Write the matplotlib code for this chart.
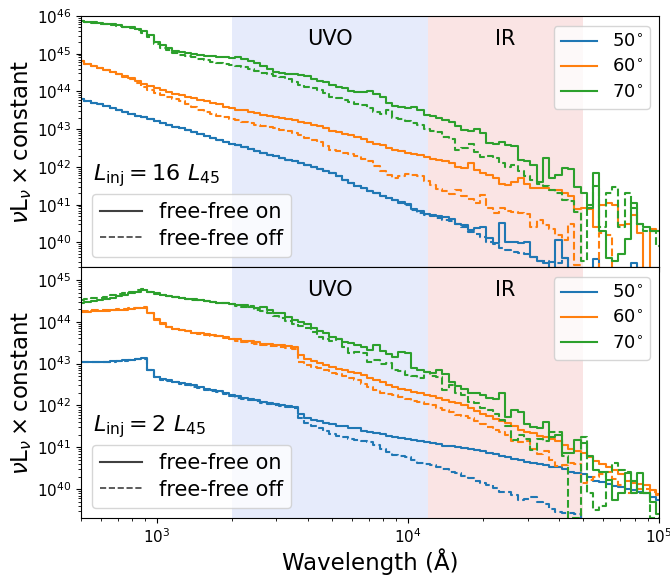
import numpy as np
import matplotlib
matplotlib.use('Agg')
import matplotlib.pyplot as plt
from matplotlib.lines import Line2D

# wavelength bins (Angstrom), 0.025 dex apart
wavelength = [501, 531, 562, 596, 631, 668, 708, 750, 794, 841, 891, 944,
              1000, 1059, 1122, 1189, 1259, 1334, 1413, 1496, 1585, 1679, 1778, 1884,
              1995, 2113, 2239, 2371, 2512, 2661, 2818, 2985, 3162, 3350, 3548, 3758,
              3981, 4217, 4467, 4732, 5012, 5309, 5623, 5957, 6310, 6683, 7079, 7499,
              7943, 8414, 8913, 9441, 10000, 10593, 11220, 11885, 12589, 13335, 14125, 14962,
              15849, 16788, 17783, 18836, 19953, 21135, 22387, 23714, 25119, 26607, 28184, 29854,
              31623, 33497, 35481, 37584, 39811, 42170, 44668, 47315, 50119, 53088, 56234, 59566,
              63096, 66834, 70795, 74989, 79433, 84140, 89125, 94406, 100000]

angles = ['50', '60', '70']

# log10(nu L_nu x const), top panel: L_inj = 16 L45
top_on = {
    '50': [43.80, 43.75, 43.70, 43.66, 43.61, 43.56, 43.51, 43.46, 43.41, 43.36, 43.31, 43.26,
           43.21, 43.16, 43.11, 43.07, 43.02, 42.97, 42.92, 42.87, 42.82, 42.77, 42.72, 42.67,
           42.62, 42.57, 42.52, 42.47, 42.42, 42.37, 42.32, 42.28, 42.23, 42.19, 42.15, 42.10,
           42.05, 42.00, 41.95, 41.90, 41.84, 41.76, 41.66, 41.58, 41.50, 41.44, 41.36, 41.30,
           41.24, 41.17, 41.12, 41.06, 41.02, 40.88, 40.82, 40.76, 40.74, 40.70, 40.68, 40.62,
           40.50, 40.45, 40.33, 40.38, 40.40, 40.12, 39.99, 40.52, 40.02, 40.00, 39.99, 40.02,
           39.62, 39.50, 39.45, 39.30, 40.07, 39.60, 39.20, 38.50, 38.50, 38.50, 39.55, 38.50,
           38.50, 38.50, 38.50, 38.50, 39.45, 38.50, 38.50, 38.50, 38.50],
    '60': [44.81, 44.74, 44.68, 44.63, 44.58, 44.52, 44.46, 44.41, 44.35, 44.28, 44.20, 44.14,
           44.08, 44.03, 43.98, 43.94, 43.90, 43.86, 43.82, 43.78, 43.75, 43.70, 43.66, 43.60,
           43.55, 43.52, 43.50, 43.46, 43.42, 43.38, 43.35, 43.32, 43.30, 43.27, 43.24, 43.20,
           43.17, 43.12, 43.08, 43.02, 42.96, 42.92, 42.88, 42.84, 42.80, 42.73, 42.66, 42.62,
           42.58, 42.50, 42.45, 42.41, 42.38, 42.35, 42.32, 42.27, 42.22, 42.18, 42.16, 42.10,
           42.00, 41.98, 42.10, 41.92, 41.85, 41.79, 41.70, 41.55, 41.52, 41.60, 41.71, 41.55,
           41.44, 41.44, 41.45, 41.40, 41.38, 41.32, 41.22, 40.88, 40.90, 40.88, 40.42, 41.00,
           41.05, 41.00, 40.45, 40.50, 40.72, 40.25, 39.30, 40.35, 40.30],
    '70': [45.87, 45.85, 45.83, 45.82, 45.80, 45.78, 45.75, 45.72, 45.70, 45.66, 45.60, 45.50,
           45.32, 45.22, 45.15, 45.08, 45.05, 45.02, 44.99, 44.97, 44.95, 44.93, 44.92, 44.90,
           44.88, 44.92, 44.85, 44.80, 44.75, 44.68, 44.60, 44.52, 44.48, 44.47, 44.47, 44.44,
           44.40, 44.34, 44.28, 44.24, 44.18, 44.12, 44.08, 44.02, 43.99, 43.98, 44.02, 43.92,
           43.85, 43.70, 43.62, 43.59, 43.56, 43.59, 43.50, 43.38, 43.36, 43.30, 43.24, 43.18,
           43.08, 42.98, 42.95, 43.00, 42.90, 42.64, 42.62, 42.66, 42.58, 42.55, 42.19, 42.15,
           42.05, 41.60, 42.24, 41.70, 41.79, 41.97, 41.95, 41.47, 41.30, 40.90, 41.85, 40.30,
           39.60, 39.50, 39.70, 40.10, 41.05, 40.50, 40.40, 40.30, 40.30],
}
top_off = {
    '50': [43.80, 43.75, 43.70, 43.66, 43.61, 43.56, 43.51, 43.46, 43.41, 43.36, 43.31, 43.26,
           43.21, 43.16, 43.11, 43.07, 43.02, 42.97, 42.92, 42.87, 42.82, 42.77, 42.72, 42.67,
           42.62, 42.57, 42.52, 42.47, 42.42, 42.37, 42.32, 42.28, 42.23, 42.19, 42.15, 42.10,
           42.05, 42.00, 41.95, 41.90, 41.84, 41.76, 41.66, 41.58, 41.50, 41.44, 41.36, 41.30,
           41.24, 41.17, 41.12, 41.05, 40.98, 40.86, 40.78, 40.74, 40.70, 40.64, 40.59, 40.58,
           40.48, 40.40, 40.28, 40.22, 40.15, 40.00, 39.95, 39.85, 39.80, 39.75, 39.72, 39.70,
           39.62, 39.52, 39.50, 39.48, 39.45, 39.60, 38.50, 38.50, 38.50, 38.50, 38.50, 38.50,
           38.50, 38.50, 38.50, 38.50, 38.50, 38.50, 38.50, 38.50, 38.50],
    '60': [44.81, 44.74, 44.68, 44.62, 44.57, 44.51, 44.45, 44.39, 44.32, 44.22, 44.12, 44.04,
           43.97, 43.90, 43.85, 43.80, 43.76, 43.68, 43.60, 43.52, 43.45, 43.40, 43.36, 43.32,
           43.28, 43.24, 43.20, 43.16, 43.12, 43.08, 43.05, 43.02, 42.98, 42.94, 42.90, 42.84,
           42.78, 42.72, 42.65, 42.55, 42.45, 42.42, 42.38, 42.33, 42.28, 42.22, 42.15, 42.02,
           41.90, 41.78, 41.72, 41.75, 41.80, 41.79, 41.76, 41.62, 41.52, 41.42, 41.35, 41.28,
           41.38, 41.22, 41.15, 41.05, 41.25, 40.90, 40.78, 40.92, 40.82, 40.80, 40.78, 40.75,
           40.40, 40.60, 40.45, 40.35, 40.20, 40.07, 40.50, 39.40, 39.30, 38.50, 38.50, 40.25,
           40.20, 38.50, 38.50, 38.50, 38.50, 38.50, 38.50, 38.50, 38.50],
    '70': [45.87, 45.84, 45.82, 45.80, 45.78, 45.76, 45.73, 45.70, 45.68, 45.63, 45.56, 45.44,
           45.26, 45.16, 45.10, 45.02, 44.97, 44.93, 44.90, 44.87, 44.83, 44.79, 44.76, 44.73,
           44.70, 44.68, 44.64, 44.60, 44.55, 44.50, 44.45, 44.41, 44.38, 44.32, 44.25, 44.18,
           44.12, 44.09, 44.05, 43.97, 43.85, 43.82, 43.78, 43.72, 43.66, 43.64, 43.56, 43.45,
           43.40, 43.50, 43.30, 43.26, 43.22, 43.17, 43.10, 43.00, 42.95, 42.93, 42.80, 42.75,
           42.45, 42.50, 42.60, 42.40, 42.26, 42.28, 42.24, 42.10, 42.00, 42.05, 41.90, 41.75,
           41.66, 41.55, 41.50, 41.39, 41.30, 41.13, 41.10, 40.80, 39.50, 41.00, 41.50, 40.40,
           41.30, 41.47, 40.40, 41.30, 40.90, 40.50, 40.30, 40.30, 39.90],
}

# bottom panel: L_inj = 2 L45
bot_on = {
    '50': [43.04, 43.04, 43.04, 43.04, 43.05, 43.06, 43.07, 43.08, 43.09, 43.11, 43.13, 42.85,
           42.68, 42.63, 42.60, 42.57, 42.54, 42.51, 42.48, 42.44, 42.40, 42.38, 42.35, 42.30,
           42.25, 42.22, 42.19, 42.15, 42.12, 42.09, 42.06, 42.03, 42.01, 41.99, 41.96, 41.80,
           41.70, 41.66, 41.62, 41.58, 41.55, 41.52, 41.50, 41.47, 41.45, 41.40, 41.36, 41.33,
           41.31, 41.27, 41.24, 41.22, 41.20, 41.17, 41.15, 41.12, 41.10, 41.07, 41.04, 41.02,
           41.00, 40.98, 40.96, 40.93, 40.90, 40.87, 40.83, 40.80, 40.76, 40.72, 40.69, 40.66,
           40.63, 40.60, 40.57, 40.54, 40.52, 40.47, 40.42, 40.38, 40.35, 40.28, 40.20, 40.16,
           40.12, 40.08, 40.05, 40.01, 39.97, 39.93, 39.90, 39.82, 39.74],
    '60': [44.23, 44.24, 44.25, 44.25, 44.26, 44.27, 44.28, 44.29, 44.30, 44.32, 44.33, 44.20,
           44.05, 43.95, 43.88, 43.83, 43.80, 43.77, 43.74, 43.72, 43.70, 43.68, 43.66, 43.63,
           43.60, 43.58, 43.55, 43.53, 43.51, 43.48, 43.46, 43.45, 43.44, 43.42, 43.40, 43.20,
           43.10, 43.06, 43.02, 42.97, 42.92, 42.88, 42.85, 42.81, 42.77, 42.72, 42.66, 42.61,
           42.56, 42.48, 42.43, 42.40, 42.36, 42.33, 42.30, 42.26, 42.22, 42.18, 42.13, 42.09,
           42.05, 42.00, 41.94, 41.87, 41.80, 41.75, 41.68, 41.63, 41.58, 41.50, 41.41, 41.37,
           41.33, 41.28, 41.24, 41.20, 41.15, 41.05, 40.95, 40.90, 40.86, 40.76, 40.68, 40.60,
           40.53, 40.45, 40.35, 40.20, 40.14, 40.12, 40.10, 39.98, 39.88],
    '70': [44.45, 44.47, 44.50, 44.52, 44.55, 44.58, 44.62, 44.65, 44.69, 44.72, 44.76, 44.72,
           44.68, 44.65, 44.62, 44.60, 44.57, 44.55, 44.54, 44.51, 44.49, 44.47, 44.46, 44.44,
           44.43, 44.41, 44.39, 44.36, 44.32, 44.35, 44.27, 44.22, 44.20, 44.12, 44.05, 44.00,
           43.95, 43.86, 43.78, 43.72, 43.64, 43.60, 43.52, 43.49, 43.44, 43.40, 43.33, 43.45,
           43.30, 43.22, 43.15, 43.27, 43.25, 42.90, 42.85, 42.80, 42.78, 42.85, 42.75, 42.56,
           42.46, 42.40, 42.29, 42.30, 42.25, 42.18, 42.16, 42.30, 41.72, 41.89, 41.85, 41.55,
           41.48, 41.45, 41.60, 41.25, 41.30, 40.86, 40.86, 41.17, 41.10, 40.80, 40.45, 40.40,
           40.21, 39.74, 39.90, 40.38, 39.90, 40.38, 39.90, 39.70, 39.40],
}
bot_off = {
    '50': [43.03, 43.03, 43.03, 43.03, 43.04, 43.05, 43.06, 43.07, 43.08, 43.10, 43.12, 42.84,
           42.67, 42.62, 42.58, 42.55, 42.52, 42.48, 42.45, 42.41, 42.38, 42.35, 42.33, 42.27,
           42.22, 42.19, 42.16, 42.13, 42.10, 42.07, 42.04, 42.01, 41.98, 41.96, 41.94, 41.70,
           41.58, 41.52, 41.45, 41.38, 41.32, 41.28, 41.25, 41.21, 41.18, 41.15, 41.12, 41.05,
           40.95, 40.88, 40.82, 40.79, 40.76, 40.70, 40.62, 40.60, 40.58, 40.52, 40.48, 40.42,
           40.38, 40.32, 40.26, 40.20, 40.15, 40.10, 40.02, 39.93, 39.92, 39.85, 39.74, 39.76,
           39.80, 39.70, 39.64, 39.52, 39.45, 39.43, 39.42, 39.40, 38.00, 38.00, 38.00, 38.00,
           38.00, 38.00, 38.00, 38.00, 38.00, 38.00, 38.00, 38.00, 38.00],
    '60': [44.25, 44.26, 44.27, 44.27, 44.28, 44.29, 44.30, 44.31, 44.32, 44.34, 44.35, 44.22,
           44.07, 43.96, 43.88, 43.83, 43.80, 43.77, 43.74, 43.71, 43.69, 43.67, 43.65, 43.61,
           43.58, 43.55, 43.52, 43.50, 43.48, 43.45, 43.43, 43.41, 43.40, 43.38, 43.35, 43.05,
           42.97, 42.93, 42.90, 42.84, 42.78, 42.74, 42.70, 42.65, 42.60, 42.52, 42.44, 42.36,
           42.30, 42.27, 42.25, 42.20, 42.15, 42.11, 42.08, 42.04, 42.00, 41.95, 41.90, 41.84,
           41.78, 41.74, 41.70, 41.62, 41.55, 41.48, 41.42, 41.36, 41.30, 41.15, 41.12, 41.14,
           40.95, 40.85, 40.90, 40.70, 40.55, 40.58, 40.62, 40.60, 40.14, 40.22, 40.30, 40.35,
           40.40, 40.25, 40.10, 39.90, 39.90, 40.00, 40.00, 39.92, 39.85],
    '70': [44.52, 44.54, 44.56, 44.58, 44.60, 44.63, 44.66, 44.69, 44.72, 44.75, 44.78, 44.72,
           44.66, 44.64, 44.62, 44.60, 44.58, 44.55, 44.53, 44.52, 44.50, 44.48, 44.46, 44.44,
           44.42, 44.38, 44.35, 44.38, 44.28, 44.25, 44.20, 44.15, 44.08, 44.02, 43.95, 43.90,
           43.85, 43.75, 43.64, 43.60, 43.55, 43.58, 43.40, 43.25, 43.28, 43.25, 43.04, 43.08,
           42.98, 43.02, 42.85, 42.83, 42.73, 42.70, 42.66, 42.80, 42.70, 42.68, 42.37, 42.50,
           42.30, 42.25, 42.08, 42.05, 41.95, 41.90, 41.80, 41.65, 41.50, 41.17, 41.30, 41.20,
           40.93, 41.20, 41.15, 41.37, 41.37, 40.80, 39.30, 39.30, 41.24, 39.90, 39.50, 39.60,
           40.40, 40.62, 40.45, 40.40, 40.20, 39.90, 39.90, 39.30, 39.30],
}

colors = {'50': '#1f77b4', '60': '#ff7f0e', '70': '#2ca02c'}
uvo_band = (2000, 12000)
ir_band = (12000, 50000)

fig = plt.figure(figsize=(6.7, 5.76), dpi=100)
ax_top = fig.add_axes([0.1209, 0.5365, 0.8627, 0.4358])
ax_bot = fig.add_axes([0.1209, 0.1007, 0.8627, 0.4358], sharex=ax_top)

panels = [(ax_top, top_on, top_off, r'$L_{\rm inj} = 16\ L_{45}$', (10**39.35, 1e46)),
          (ax_bot, bot_on, bot_off, r'$L_{\rm inj} = 2\ L_{45}$', (10**39.31, 10**45.31))]

for ax, on, off, label, ylim in panels:
    ax.axvspan(*uvo_band, color='royalblue', alpha=0.13, lw=0)
    ax.axvspan(*ir_band, color='#d62728', alpha=0.12, lw=0)
    for a in angles:
        ax.plot(wavelength, 10**np.array(on[a]), drawstyle='steps-mid',
                color=colors[a], lw=1.5, label=a + r'$^{\circ}$')
        ax.plot(wavelength, 10**np.array(off[a]), drawstyle='steps-mid',
                color=colors[a], lw=1.5, ls='--')
    ax.set_xscale('log')
    ax.set_yscale('log')
    ax.set_xlim(500, 1e5)
    ax.set_ylim(*ylim)
    ax.text(np.sqrt(uvo_band[0] * uvo_band[1]), 0.91, 'UVO', transform=ax.get_xaxis_transform(),
            ha='center', va='center', fontsize=15)
    ax.text(np.sqrt(ir_band[0] * ir_band[1]), 0.91, 'IR', transform=ax.get_xaxis_transform(),
            ha='center', va='center', fontsize=15)
    ax.text(0.02, 0.365, label, transform=ax.transAxes, fontsize=16, ha='left', va='center')
    ax.set_ylabel(r'$\nu\mathrm{L}_\nu \times$constant', fontsize=16.5, labelpad=2)
    ax.tick_params(labelsize=11)
    leg1 = ax.legend(loc='upper right', bbox_to_anchor=(0.984, 0.96), borderaxespad=0,
                     fontsize=13, handlelength=2.0, labelspacing=0.4)
    style_handles = [Line2D([], [], color='#404040', lw=1.5, ls='-'),
                     Line2D([], [], color='#404040', lw=1.2, ls='--')]
    ax.legend(style_handles, ['free-free on', 'free-free off'], loc='lower left',
              bbox_to_anchor=(0.019, 0.04), borderaxespad=0, fontsize=15,
              handlelength=2.0, labelspacing=0.3)
    ax.add_artist(leg1)

plt.setp(ax_top.get_xticklabels(), visible=False)
ax_bot.set_xlabel('Wavelength (Å)', fontsize=16.5, labelpad=1)

fig.savefig('out.png', dpi=100)
